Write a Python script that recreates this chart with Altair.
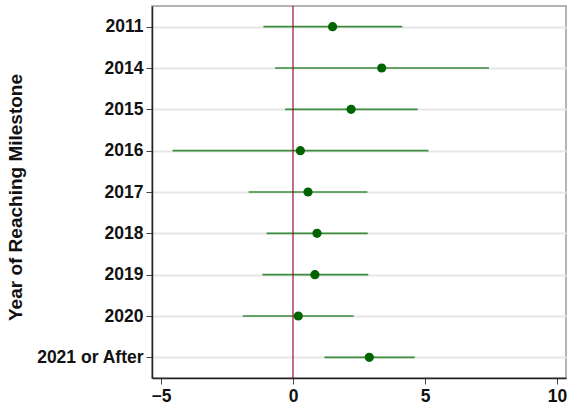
import altair as alt
import pandas as pd

# Coefficient estimates with confidence intervals by milestone year
years = ["2011", "2014", "2015", "2016", "2017", "2018", "2019", "2020", "2021 or After"]
estimate = [1.50, 3.36, 2.20, 0.28, 0.57, 0.91, 0.83, 0.20, 2.89]
lower = [-1.12, -0.68, -0.30, -4.56, -1.68, -1.00, -1.16, -1.91, 1.19]
upper = [4.14, 7.42, 4.72, 5.13, 2.82, 2.83, 2.85, 2.30, 4.61]

df = pd.DataFrame({"year": years, "est": estimate, "lo": lower, "hi": upper})

x_scale = alt.Scale(domain=[-5.34, 10.34], nice=False, zero=False)
y_scale = alt.Scale(type="point", padding=0.5)

y_enc = alt.Y(
    "year:N",
    sort=years,
    scale=y_scale,
    title="Year of Reaching Milestone",
    axis=alt.Axis(
        grid=True,
        gridColor="#e6e6e6",
        gridWidth=2,
        domainColor="#222222",
        domainWidth=1.5,
        tickColor="#444444",
        tickSize=6,
        labelFont="Liberation Sans",
        labelFontSize=17.5,
        labelFontWeight="bold",
        labelColor="#111111",
        labelPadding=3,
        titleFont="Liberation Sans",
        titleFontSize=19,
        titleFontWeight="bold",
        titleColor="#111111",
        titleX=-137,
        titleY=191,
        titleBaseline="middle",
        titleAlign="center",
    ),
)

x_axis = alt.Axis(
    values=[-5, 0, 5, 10],
    grid=False,
    domainColor="#222222",
    domainWidth=1.5,
    tickColor="#444444",
    tickSize=6,
    labelFont="Liberation Sans",
    labelFontSize=17.5,
    labelFontWeight="bold",
    labelColor="#111111",
    labelPadding=3,
    title=None,
)

base = alt.Chart(df)

ci = base.mark_rule(color="#3d8b3d", strokeWidth=1.6).encode(
    x=alt.X("lo:Q", scale=x_scale, axis=x_axis),
    x2="hi:Q",
    y=y_enc,
)

zero = alt.Chart(pd.DataFrame({"z": [0]})).mark_rule(
    color="#9c0d35", strokeWidth=1.2
).encode(x=alt.X("z:Q", scale=x_scale))

pts = base.mark_circle(color="#006400", opacity=1, size=85).encode(
    x=alt.X("est:Q", scale=x_scale),
    y=alt.Y("year:N", sort=years, scale=y_scale),
)

chart = (
    alt.layer(ci, zero, pts)
    .properties(
        width=414,
        height=372,
        autosize=alt.AutoSizeParams(type="none"),
        padding={"left": 152, "top": 6, "right": 1, "bottom": 27},
        background="white",
    )
    .configure_view(stroke="#9a9a9a", strokeWidth=1.5)
)

chart.save("out.html", embed_options={"renderer": "svg", "actions": False})
